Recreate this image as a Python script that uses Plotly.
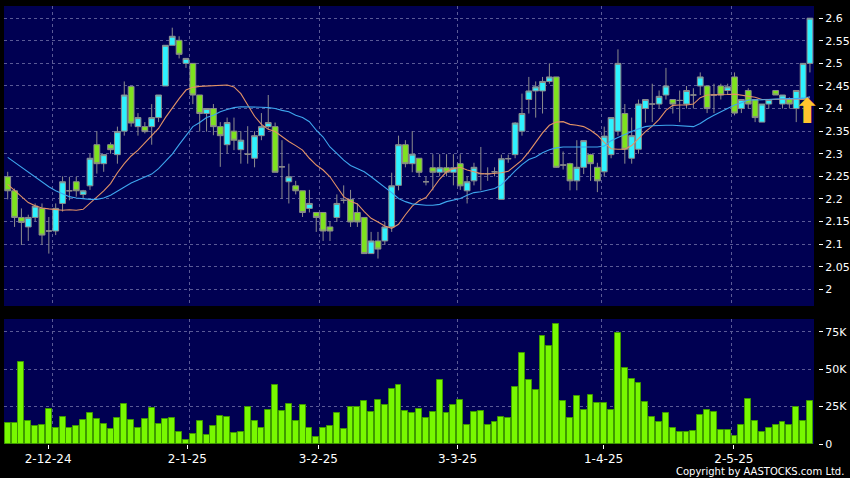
import plotly.graph_objects as go

# ---------------- data ----------------
opens = [2.249, 2.218, 2.159, 2.138, 2.159, 2.179, 2.129, 2.129, 2.190, 2.218,
         2.238, 2.210, 2.229, 2.320, 2.278, 2.320, 2.298, 2.350, 2.449, 2.360,
         2.360, 2.360, 2.380, 2.450, 2.540, 2.551, 2.500, 2.500, 2.430, 2.389,
         2.400, 2.360, 2.320, 2.350, 2.309, 2.299, 2.290, 2.340, 2.360, 2.360,
         2.271, 2.238, 2.229, 2.218, 2.179, 2.170, 2.170, 2.138, 2.159, 2.197,
         2.199, 2.170, 2.159, 2.079, 2.107, 2.107, 2.138, 2.230, 2.320, 2.278,
         2.290, 2.238, 2.269, 2.259, 2.269, 2.259, 2.278, 2.218, 2.240, 2.256,
         2.256, 2.260, 2.199, 2.289, 2.298, 2.350, 2.420, 2.439, 2.439, 2.460,
         2.470, 2.275, 2.278, 2.240, 2.270, 2.298, 2.270, 2.260, 2.298, 2.350,
         2.389, 2.290, 2.310, 2.400, 2.410, 2.410, 2.430, 2.420, 2.418, 2.410,
         2.430, 2.450, 2.450, 2.430, 2.450, 2.440, 2.470, 2.400, 2.440, 2.420,
         2.370, 2.410, 2.440, 2.410, 2.420, 2.400, 2.420, 2.500]
highs = [2.260, 2.223, 2.179, 2.165, 2.190, 2.190, 2.160, 2.190, 2.250, 2.249,
         2.249, 2.220, 2.300, 2.350, 2.298, 2.325, 2.360, 2.460, 2.449, 2.390,
         2.370, 2.410, 2.430, 2.540, 2.579, 2.560, 2.511, 2.500, 2.430, 2.400,
         2.410, 2.370, 2.380, 2.380, 2.350, 2.361, 2.350, 2.390, 2.430, 2.369,
         2.330, 2.278, 2.240, 2.218, 2.220, 2.170, 2.170, 2.150, 2.210, 2.230,
         2.220, 2.190, 2.159, 2.127, 2.127, 2.149, 2.258, 2.340, 2.330, 2.350,
         2.290, 2.249, 2.299, 2.299, 2.299, 2.299, 2.299, 2.250, 2.280, 2.315,
         2.270, 2.270, 2.298, 2.298, 2.370, 2.433, 2.470, 2.460, 2.470, 2.500,
         2.470, 2.305, 2.280, 2.330, 2.330, 2.300, 2.280, 2.360, 2.380, 2.531,
         2.410, 2.380, 2.420, 2.420, 2.455, 2.440, 2.490, 2.420, 2.440, 2.450,
         2.445, 2.480, 2.450, 2.455, 2.455, 2.455, 2.480, 2.420, 2.445, 2.420,
         2.410, 2.420, 2.440, 2.430, 2.425, 2.440, 2.500, 2.600]
lows = [2.199, 2.138, 2.098, 2.107, 2.150, 2.098, 2.079, 2.120, 2.172, 2.197,
        2.205, 2.200, 2.220, 2.256, 2.260, 2.300, 2.278, 2.340, 2.360, 2.340,
        2.345, 2.320, 2.370, 2.450, 2.540, 2.511, 2.490, 2.410, 2.349, 2.349,
        2.341, 2.271, 2.300, 2.308, 2.278, 2.278, 2.270, 2.330, 2.355, 2.259,
        2.200, 2.190, 2.210, 2.160, 2.170, 2.127, 2.107, 2.107, 2.149, 2.190,
        2.138, 2.138, 2.079, 2.079, 2.068, 2.098, 2.127, 2.219, 2.270, 2.259,
        2.249, 2.230, 2.219, 2.250, 2.250, 2.230, 2.220, 2.190, 2.230, 2.219,
        2.240, 2.250, 2.199, 2.280, 2.290, 2.340, 2.389, 2.380, 2.389, 2.455,
        2.269, 2.265, 2.219, 2.219, 2.255, 2.240, 2.215, 2.250, 2.290, 2.340,
        2.278, 2.278, 2.300, 2.369, 2.370, 2.400, 2.420, 2.389, 2.370, 2.400,
        2.400, 2.430, 2.390, 2.390, 2.420, 2.430, 2.385, 2.390, 2.400, 2.370,
        2.370, 2.400, 2.430, 2.400, 2.400, 2.370, 2.420, 2.480]
closes = [2.218, 2.159, 2.148, 2.159, 2.184, 2.120, 2.129, 2.179, 2.238, 2.218,
          2.218, 2.218, 2.290, 2.278, 2.298, 2.309, 2.349, 2.430, 2.368, 2.380,
          2.349, 2.380, 2.430, 2.540, 2.560, 2.520, 2.511, 2.430, 2.389, 2.400,
          2.360, 2.340, 2.369, 2.330, 2.330, 2.299, 2.340, 2.360, 2.369, 2.259,
          2.271, 2.249, 2.218, 2.170, 2.190, 2.159, 2.129, 2.129, 2.190, 2.197,
          2.149, 2.149, 2.079, 2.107, 2.089, 2.138, 2.229, 2.320, 2.278, 2.299,
          2.259, 2.238, 2.259, 2.269, 2.259, 2.269, 2.229, 2.238, 2.270, 2.256,
          2.256, 2.260, 2.289, 2.289, 2.368, 2.389, 2.439, 2.448, 2.460, 2.470,
          2.270, 2.275, 2.240, 2.270, 2.329, 2.278, 2.240, 2.339, 2.380, 2.500,
          2.310, 2.340, 2.410, 2.420, 2.410, 2.427, 2.450, 2.410, 2.418, 2.440,
          2.430, 2.470, 2.400, 2.430, 2.430, 2.448, 2.390, 2.420, 2.410, 2.380,
          2.410, 2.420, 2.430, 2.430, 2.410, 2.440, 2.500, 2.600]
volume_k = [13.7, 13.7, 55.0, 15.5, 11.7, 12.8, 23.6, 10.6, 18.0, 10.6,
            11.9, 15.8, 20.5, 16.4, 13.5, 9.9, 17.6, 26.6, 16.2, 10.6,
            16.9, 24.1, 13.5, 16.7, 17.1, 8.1, 2.9, 6.8, 15.1, 5.9,
            11.7, 18.5, 18.0, 7.4, 7.7, 24.5, 15.1, 11.0, 22.5, 39.4,
            22.3, 26.6, 15.1, 25.9, 10.6, 4.7, 10.6, 12.2, 20.5, 10.1,
            24.8, 25.0, 29.0, 21.4, 29.7, 26.1, 36.9, 39.2, 22.3, 20.5,
            23.6, 17.3, 21.6, 42.8, 20.9, 25.9, 29.3, 12.4, 21.4, 22.3,
            12.4, 14.6, 17.8, 17.3, 38.3, 61.0, 43.0, 36.0, 72.3, 65.5,
            80.0, 29.0, 17.3, 31.8, 22.5, 32.7, 27.3, 27.3, 22.7, 74.3,
            50.5, 43.5, 41.0, 27.9, 17.8, 14.9, 20.7, 10.8, 7.9, 7.7,
            9.0, 19.4, 23.0, 21.4, 9.2, 9.2, 5.6, 12.6, 30.2, 15.3,
            8.1, 10.6, 12.4, 14.6, 12.6, 25.0, 15.1, 28.6]
ma_short = [2.232, 2.218, 2.205, 2.192, 2.185, 2.180, 2.178, 2.177, 2.175, 2.176,
            2.175, 2.177, 2.190, 2.203, 2.218, 2.234, 2.258, 2.278, 2.295, 2.308,
            2.324, 2.339, 2.356, 2.380, 2.402, 2.422, 2.441, 2.447, 2.449, 2.450,
            2.450, 2.451, 2.452, 2.448, 2.433, 2.408, 2.383, 2.365, 2.354, 2.349,
            2.337, 2.327, 2.318, 2.308, 2.290, 2.275, 2.264, 2.249, 2.227, 2.205,
            2.195, 2.189, 2.172, 2.157, 2.149, 2.140, 2.135, 2.144, 2.165, 2.184,
            2.196, 2.203, 2.223, 2.244, 2.260, 2.267, 2.270, 2.264, 2.260, 2.256,
            2.255, 2.256, 2.258, 2.261, 2.273, 2.286, 2.304, 2.326, 2.346, 2.363,
            2.370, 2.371, 2.365, 2.363, 2.360, 2.352, 2.341, 2.325, 2.311, 2.310,
            2.310, 2.318, 2.334, 2.349, 2.361, 2.376, 2.396, 2.407, 2.408, 2.408,
            2.410, 2.424, 2.430, 2.430, 2.431, 2.431, 2.432, 2.430, 2.428, 2.425,
            2.420, 2.420, 2.420, 2.420, 2.420, 2.420, 2.421, 2.424]
ma_long = [2.292, 2.281, 2.271, 2.258, 2.249, 2.238, 2.227, 2.218, 2.211, 2.205,
           2.202, 2.200, 2.199, 2.199, 2.202, 2.208, 2.217, 2.227, 2.235, 2.242,
           2.249, 2.255, 2.267, 2.283, 2.299, 2.320, 2.341, 2.360, 2.369, 2.380,
           2.385, 2.393, 2.398, 2.402, 2.404, 2.404, 2.404, 2.403, 2.402, 2.400,
           2.396, 2.393, 2.385, 2.380, 2.371, 2.352, 2.337, 2.315, 2.301, 2.286,
           2.274, 2.267, 2.260, 2.249, 2.238, 2.227, 2.214, 2.201, 2.194, 2.189,
           2.187, 2.186, 2.186, 2.188, 2.194, 2.197, 2.201, 2.208, 2.214, 2.216,
           2.219, 2.223, 2.231, 2.247, 2.262, 2.276, 2.287, 2.293, 2.302, 2.309,
           2.313, 2.315, 2.315, 2.315, 2.315, 2.315, 2.315, 2.317, 2.329, 2.336,
           2.343, 2.349, 2.355, 2.360, 2.362, 2.363, 2.363, 2.363, 2.362, 2.360,
           2.360, 2.367, 2.377, 2.385, 2.393, 2.400, 2.408, 2.413, 2.419, 2.419,
           2.419, 2.420, 2.421, 2.422, 2.422, 2.422, 2.423, 2.426]

date_labels = ["2-12-24", "2-1-25", "3-2-25", "3-3-25", "1-4-25", "2-5-25"]
label_pos = [5.9, 26.2, 45.3, 65.6, 86.9, 105.9]     # candle-index positions of labels
grid_pos = [6.5, 26.5, 45.5, 65.6, 86.6, 105.6]      # candle-index positions of gridlines
price_ticks = [2.0, 2.05, 2.1, 2.15, 2.2, 2.25, 2.3, 2.35, 2.4, 2.45, 2.5, 2.55, 2.6]
price_tick_text = ["2", "2.05", "2.1", "2.15", "2.2", "2.25", "2.3", "2.35", "2.4",
                   "2.45", "2.5", "2.55", "2.6"]
vol_ticks = [0, 25, 50, 75]
vol_tick_text = ["0", "25K", "50K", "75K"]
signal_index = 116.6
signal_price = 2.394

idx = list(range(len(closes)))

# ---------------- styling ----------------
PANE = "#000052"
GRID = "#5a5a96"
FONT = "DejaVu Sans"
XR = [-0.54, 117.59]

fig = go.Figure()

fig.add_trace(go.Candlestick(
    x=idx, open=opens, high=highs, low=lows, close=closes,
    increasing=dict(line=dict(color="#8c8c8c", width=1), fillcolor="#2ef2ff"),
    decreasing=dict(line=dict(color="#8c8c8c", width=1), fillcolor="#7ee21e"),
    whiskerwidth=0, xaxis="x", yaxis="y", showlegend=False, hoverinfo="skip"))

fig.add_trace(go.Scatter(x=idx, y=ma_short, mode="lines",
                         line=dict(color="#e29266", width=1.1),
                         xaxis="x", yaxis="y", showlegend=False, hoverinfo="skip"))
fig.add_trace(go.Scatter(x=idx, y=ma_long, mode="lines",
                         line=dict(color="#3ea6ee", width=1.1),
                         xaxis="x", yaxis="y", showlegend=False, hoverinfo="skip"))

fig.add_trace(go.Bar(x=idx, y=volume_k, width=0.86,
                     marker=dict(color="#78f800", line=dict(color="#3f9a00", width=1)),
                     xaxis="x2", yaxis="y2", showlegend=False, hoverinfo="skip"))
fig.add_trace(go.Scatter(x=[], y=[], xaxis="x3", yaxis="y2", showlegend=False))

W, H = 850, 478
ml, mr, mt, mb = 4, 20, 6, 34
pw = W - ml - mr
ph = H - mt - mb
xdom_end = (814 - ml) / pw
ypos = (818 - ml) / pw
price_dom = [(444 - 306) / ph, 1.0]
vol_dom = [0.0, (444 - 319) / ph]

fig.add_annotation(x=signal_index, y=signal_price, xref="x", yref="y",
                   text="⬆", showarrow=False,
                   font=dict(family=FONT, size=34, color="#ffc52e"))

fig.add_annotation(x=(846 - ml) / pw, y=(444 - 471) / ph, xref="paper", yref="paper",
                   xanchor="right", yanchor="middle",
                   text="Copyright by AASTOCKS.com Ltd.", showarrow=False,
                   font=dict(family=FONT, size=10, color="#ffffff"))

grid_common = dict(showgrid=True, gridcolor=GRID, gridwidth=1, griddash="3px,3px", zeroline=False)

fig.update_layout(
    width=W, height=H,
    margin=dict(l=ml, r=mr, t=mt, b=mb),
    paper_bgcolor="#000000", plot_bgcolor=PANE,
    boxgap=0.16, boxgroupgap=0,
    bargap=0,
    font=dict(family=FONT, color="#ffffff"),
    xaxis=dict(domain=[0, xdom_end], range=XR, anchor="y", tickvals=grid_pos,
               showticklabels=False, ticks="", rangeslider=dict(visible=False),
               showline=False, **grid_common),
    yaxis=dict(domain=price_dom, range=[1.963, 2.627], anchor="free", position=ypos,
               side="right", tickvals=price_ticks, ticktext=price_tick_text,
               ticks="outside", ticklen=4, tickcolor="#ffffff",
               tickfont=dict(family=FONT, size=11, color="#ffffff"),
               showline=False, automargin=False, **grid_common),
    xaxis2=dict(domain=[0, xdom_end], range=XR, anchor="y2", tickvals=grid_pos,
                showticklabels=False, ticks="", showline=False, **grid_common),
    xaxis3=dict(domain=[0, xdom_end], range=XR, anchor="y2", overlaying="x2",
                tickvals=label_pos, ticktext=date_labels, showgrid=False, zeroline=False,
                ticks="outside", ticklen=4, tickcolor="#ffffff", side="bottom",
                tickfont=dict(family=FONT, size=12, color="#ffffff"),
                showline=False, automargin=False),
    yaxis2=dict(domain=vol_dom, range=[0, 83.5], anchor="free", position=ypos,
                side="right", tickvals=vol_ticks, ticktext=vol_tick_text,
                ticks="outside", ticklen=4, tickcolor="#ffffff",
                tickfont=dict(family=FONT, size=11, color="#ffffff"),
                showline=False, automargin=False, **grid_common),
)

fig.write_html("out.html", config={"displayModeBar": False},
               post_script="document.body.style.margin='0';document.body.style.background='#000';")
